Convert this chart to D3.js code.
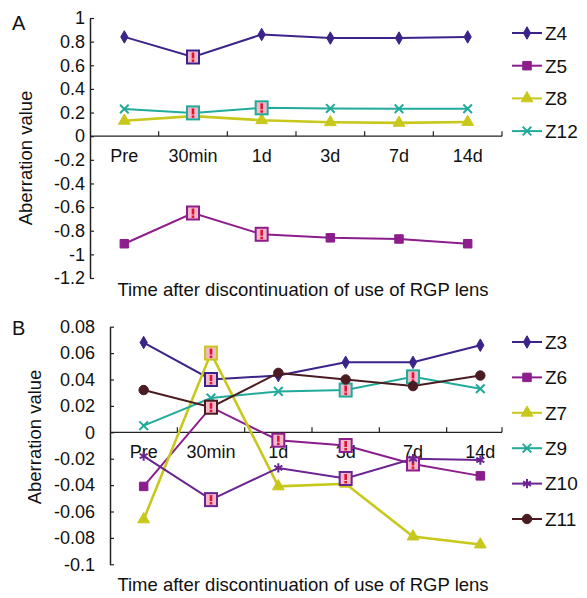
<!DOCTYPE html>
<html>
<head>
<meta charset="utf-8">
<title>Aberration after discontinuation of RGP lens</title>
<script src="https://cdn.jsdelivr.net/npm/d3@7"></script>
<style>
    body { margin: 0; background: #fff; }
    svg text { font-family: "Liberation Sans", Arial, sans-serif; fill: #111; }
</style>
</head>
<body>
<svg id="chart" width="587" height="598"></svg>
<script>
// categories (x axis)
var categories = ["Pre", "30min", "1d", "3d", "7d", "14d"];

// panel A values
var z4  = [0.84, 0.67, 0.86, 0.83, 0.83, 0.84];
var z5  = [-0.91, -0.65, -0.83, -0.86, -0.87, -0.91];
var z8  = [0.13, 0.17, 0.135, 0.118, 0.113, 0.12];
var z12 = [0.23, 0.197, 0.24, 0.235, 0.232, 0.232];

// panel B values
var z3  = [0.068, 0.04, 0.043, 0.053, 0.053, 0.066];
var z6  = [-0.041, 0.019, -0.006, -0.01, -0.024, -0.033];
var z7  = [-0.066, 0.06, -0.041, -0.039, -0.079, -0.085];
var z9  = [0.005, 0.026, 0.031, 0.032, 0.042, 0.033];
var z10 = [-0.018, -0.051, -0.027, -0.035, -0.02, -0.021];
var z11 = [0.032, 0.019, 0.045, 0.04, 0.035, 0.043];

// y tick values
var yTicksA = [-1.2, -1, -0.8, -0.6, -0.4, -0.2, 0, 0.2, 0.4, 0.6, 0.8, 1];
var yTicksB = [-0.1, -0.08, -0.06, -0.04, -0.02, 0, 0.02, 0.04, 0.06, 0.08];

// points marked with "!" (index into categories)
var sigZ4 = [1], sigZ5 = [1, 2], sigZ8 = [], sigZ12 = [1, 2];
var sigZ3 = [1], sigZ6 = [2, 3, 4], sigZ7 = [1], sigZ9 = [3, 4], sigZ10 = [1, 3], sigZ11 = [1];

var xTitle = "Time after discontinuation of use of RGP lens";
var yTitle = "Aberration value";

var C = {
    indigo: "#3c2389",
    magenta: "#8c1d8c",
    yellow: "#c8c81c",
    teal: "#22aa9a",
    purple: "#6a2593",
    brown: "#4a1c22"
};

var panels = [
    {
        label: "A", labelY: 30,
        left: 90, axisEnd: 502, bandEnd: 502, top: 18, bottom: 278,
        domain: [-1.2, 1], ticks: yTicksA, tickPad: 5,
        yTitleX: 32, yTitleY: 158, xTitleY: 296,
        legendY: 33, legendStep: 32.7,
        series: [
            { name: "Z4", values: z4, color: C.indigo, marker: "diamond", sig: sigZ4 },
            { name: "Z5", values: z5, color: C.magenta, marker: "square", sig: sigZ5 },
            { name: "Z8", values: z8, color: C.yellow, marker: "triangle", sig: sigZ8 },
            { name: "Z12", values: z12, color: C.teal, marker: "x", sig: sigZ12 }
        ]
    },
    {
        label: "B", labelY: 335,
        left: 110, axisEnd: 502, bandEnd: 514, top: 326.7, bottom: 564.3,
        domain: [-0.1, 0.08], ticks: yTicksB, tickPad: 15,
        yTitleX: 41, yTitleY: 437, xTitleY: 591,
        legendY: 342, legendStep: 35.4,
        series: [
            { name: "Z3", values: z3, color: C.indigo, marker: "diamond", sig: sigZ3 },
            { name: "Z6", values: z6, color: C.magenta, marker: "square", sig: sigZ6 },
            { name: "Z7", values: z7, color: C.yellow, marker: "triangle", sig: sigZ7 },
            { name: "Z9", values: z9, color: C.teal, marker: "x", sig: sigZ9 },
            { name: "Z10", values: z10, color: C.purple, marker: "star", sig: sigZ10 },
            { name: "Z11", values: z11, color: C.brown, marker: "circle", sig: sigZ11 }
        ]
    }
];

var svg = d3.select("#chart");

function symbolFor(type) {
    if (type === "diamond") return d3.symbol(d3.symbolDiamond, 45);
    if (type === "square") return d3.symbol(d3.symbolSquare, 72);
    if (type === "triangle") return d3.symbol(d3.symbolTriangle, 60);
    if (type === "circle") return d3.symbol(d3.symbolCircle, 70);
    if (type === "x") return d3.symbol(d3.symbolTimes, 50);
    return d3.symbol(d3.symbolAsterisk, 60);
}

function drawMarker(g, type, color) {
    var stroked = (type === "x" || type === "star");
    g.append("path")
        .attr("d", symbolFor(type)())
        .attr("fill", stroked ? "none" : color)
        .attr("stroke", color)
        .attr("stroke-width", stroked ? 2 : 1);
}

panels.forEach(function (p) {
    var x = d3.scaleBand().domain(categories).range([p.left, p.bandEnd]);
    var y = d3.scaleLinear().domain(p.domain).range([p.bottom, p.top]);
    var g = svg.append("g");
    var y0 = y(0);

    // panel letter
    g.append("text")
        .attr("x", 12).attr("y", p.labelY)
        .attr("font-size", 20)
        .text(p.label);

    // y axis
    var yAxis = d3.axisLeft(y)
        .tickValues(p.ticks)
        .tickFormat(function (d) { return String(d); })
        .tickSizeInner(-4)
        .tickSizeOuter(0)
        .tickPadding(p.tickPad);
    var ya = g.append("g")
        .attr("transform", "translate(" + p.left + ",0)")
        .call(yAxis);
    ya.select(".domain").attr("stroke", "#222").attr("stroke-width", 1.5);
    ya.selectAll(".tick line").attr("stroke", "#222").attr("stroke-width", 1.2);
    ya.selectAll(".tick text").attr("font-size", 18).attr("fill", "#111")
        .attr("font-family", "Liberation Sans, Arial, sans-serif");

    // x axis line at zero with boundary ticks
    g.append("line")
        .attr("x1", p.left).attr("x2", p.axisEnd)
        .attr("y1", y0).attr("y2", y0)
        .attr("stroke", "#222").attr("stroke-width", 1.2);
    var bounds = categories.slice(1).map(function (c) { return x(c); });
    bounds.push(p.axisEnd);
    g.selectAll(".xtick").data(bounds).enter().append("line")
        .attr("x1", function (d) { return d; }).attr("x2", function (d) { return d; })
        .attr("y1", y0).attr("y2", y0 - 5)
        .attr("stroke", "#222").attr("stroke-width", 1.2);

    // category labels below the zero line
    var xa = g.append("g")
        .attr("transform", "translate(0," + y0 + ")")
        .call(d3.axisBottom(x).tickSize(0).tickPadding(13));
    xa.select(".domain").remove();
    xa.selectAll(".tick text").attr("font-size", 18).attr("fill", "#111")
        .attr("font-family", "Liberation Sans, Arial, sans-serif");

    // titles
    g.append("text")
        .attr("transform", "translate(" + p.yTitleX + "," + p.yTitleY + ") rotate(-90)")
        .attr("text-anchor", "middle")
        .attr("font-size", 18.5)
        .text(yTitle);
    g.append("text")
        .attr("x", 303).attr("y", p.xTitleY)
        .attr("text-anchor", "middle")
        .attr("font-size", 18.5)
        .text(xTitle);

    var line = d3.line()
        .x(function (d, i) { return x(categories[i]) + x.bandwidth() / 2; })
        .y(function (d) { return y(d); });

    // lines
    p.series.forEach(function (s) {
        g.append("path")
            .attr("d", line(s.values))
            .attr("fill", "none")
            .attr("stroke", s.color)
            .attr("stroke-width", s.marker === "triangle" ? 2.6 : 2);
    });

    // markers
    p.series.forEach(function (s) {
        s.values.forEach(function (v, i) {
            var cx = x(categories[i]) + x.bandwidth() / 2, cy = y(v);
            var m = g.append("g").attr("transform", "translate(" + cx + "," + cy + ")");
            if (s.sig.indexOf(i) >= 0) {
                m.append("rect")
                    .attr("x", -6).attr("y", -6.5).attr("width", 12).attr("height", 13)
                    .attr("fill", "#f2b8cc").attr("stroke", s.color).attr("stroke-width", 2);
                m.append("rect")
                    .attr("x", -1.3).attr("y", -4.5).attr("width", 2.6).attr("height", 6)
                    .attr("fill", "#e0132e");
                m.append("rect")
                    .attr("x", -1.3).attr("y", 2.5).attr("width", 2.6).attr("height", 2.4)
                    .attr("fill", "#e0132e");
            } else {
                drawMarker(m, s.marker, s.color);
            }
        });
    });

    // legend
    var lg = g.append("g");
    p.series.forEach(function (s, i) {
        var ly = p.legendY + i * p.legendStep;
        lg.append("line")
            .attr("x1", 512).attr("x2", 542).attr("y1", ly).attr("y2", ly)
            .attr("stroke", s.color).attr("stroke-width", 2);
        drawMarker(lg.append("g").attr("transform", "translate(527," + ly + ")"), s.marker, s.color);
        lg.append("text")
            .attr("x", 545).attr("y", ly + 6.8)
            .attr("font-size", 19)
            .text(s.name);
    });
});
</script>
</body>
</html>
